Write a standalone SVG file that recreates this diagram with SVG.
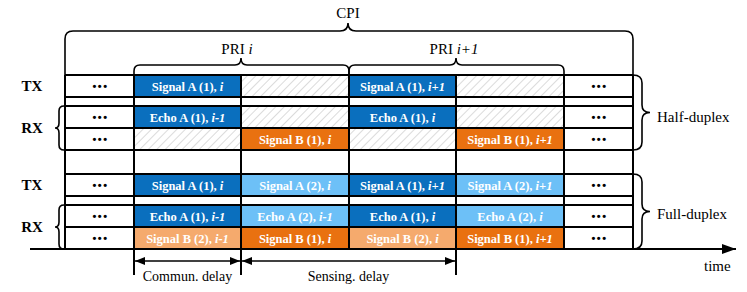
<svg xmlns="http://www.w3.org/2000/svg" width="747" height="292" viewBox="0 0 747 292">
<style>
.ln{stroke:#000;stroke-width:2;fill:none}
.br{stroke:#000;stroke-width:1.6;fill:none}
.cl{font-family:"Liberation Serif","Times New Roman",serif;font-weight:bold;font-size:12.5px;fill:#fff;text-anchor:middle}
.it{font-style:italic}
.lab{font-family:"Liberation Serif","Times New Roman",serif;font-size:15px;fill:#000}
.bl{font-family:"Liberation Serif","Times New Roman",serif;font-size:15px;font-weight:bold;fill:#000;text-anchor:middle}
.dt{font-family:"Liberation Sans",Arial,sans-serif;font-size:11px;font-weight:bold;fill:#000;text-anchor:middle;letter-spacing:1.5px}
.db{fill:#0A6FBE}.lb{fill:#6DC0F7}.or{fill:#E97110}.lo{fill:#F5AA6D}.ht{fill:url(#hatch)}
</style>
<defs>
<pattern id="hatch" patternUnits="userSpaceOnUse" width="6" height="6" patternTransform="rotate(45)">
<rect width="6" height="6" fill="#fff"/>
<line x1="0" y1="0" x2="0" y2="6" stroke="#c4c4c4" stroke-width="1.2"/>
</pattern>
<marker id="ah" viewBox="0 0 10 8" refX="10" refY="4" markerWidth="10" markerHeight="8" markerUnits="userSpaceOnUse" orient="auto-start-reverse">
<path d="M0,0 L10,4 L0,8 Z" fill="#000"/>
</marker>
<marker id="ta" viewBox="0 0 14 10" refX="14" refY="5" markerWidth="14" markerHeight="10" markerUnits="userSpaceOnUse" orient="auto">
<path d="M0,0 L14,5 L0,10 Z" fill="#000"/>
</marker>
</defs>

<g id="cells-half">
<rect class="db" x="134" y="75" width="107" height="22"/>
<rect class="ht" x="241" y="75" width="108" height="22"/>
<rect class="db" x="349" y="75" width="107" height="22"/>
<rect class="ht" x="456" y="75" width="108" height="22"/>
<rect class="db" x="134" y="106" width="107" height="22"/>
<rect class="ht" x="241" y="106" width="108" height="22"/>
<rect class="db" x="349" y="106" width="107" height="22"/>
<rect class="ht" x="456" y="106" width="108" height="22"/>
<rect class="ht" x="134" y="128" width="107" height="22"/>
<rect class="or" x="241" y="128" width="108" height="22"/>
<rect class="ht" x="349" y="128" width="107" height="22"/>
<rect class="or" x="456" y="128" width="108" height="22"/>
</g>
<g id="cells-full">
<rect class="db" x="134" y="174" width="107" height="22"/>
<rect class="lb" x="241" y="174" width="108" height="22"/>
<rect class="db" x="349" y="174" width="107" height="22"/>
<rect class="lb" x="456" y="174" width="108" height="22"/>
<rect class="db" x="134" y="205" width="107" height="22"/>
<rect class="lb" x="241" y="205" width="108" height="22"/>
<rect class="db" x="349" y="205" width="107" height="22"/>
<rect class="lb" x="456" y="205" width="108" height="22"/>
<rect class="lo" x="134" y="227" width="107" height="22"/>
<rect class="or" x="241" y="227" width="108" height="22"/>
<rect class="lo" x="349" y="227" width="107" height="22"/>
<rect class="or" x="456" y="227" width="108" height="22"/>
</g>

<g id="grid">
<path class="ln" d="M65,75H633M65,97H633M65,106H633M65,128H633M65,150H633M65,174H633M65,196H633M65,205H633M65,227H633"/>
<path class="ln" d="M65,75V249M134,75V275M241,75V275M349,75V249M456,75V275M564,75V249M633,75V249"/>
</g>

<g id="cell-text">
<text class="cl" x="187.5" y="90.5">Signal A (1), <tspan class="it">i</tspan></text>
<text class="cl" x="402.5" y="90.5">Signal A (1), <tspan class="it">i+1</tspan></text>
<text class="cl" x="187.5" y="121.5">Echo A (1), <tspan class="it">i-1</tspan></text>
<text class="cl" x="402.5" y="121.5">Echo A (1), <tspan class="it">i</tspan></text>
<text class="cl" x="295" y="143.5">Signal B (1), <tspan class="it">i</tspan></text>
<text class="cl" x="510" y="143.5">Signal B (1), <tspan class="it">i+1</tspan></text>
<text class="cl" x="187.5" y="189.5">Signal A (1), <tspan class="it">i</tspan></text>
<text class="cl" x="295" y="189.5">Signal A (2), <tspan class="it">i</tspan></text>
<text class="cl" x="402.5" y="189.5">Signal A (1), <tspan class="it">i+1</tspan></text>
<text class="cl" x="510" y="189.5">Signal A (2), <tspan class="it">i+1</tspan></text>
<text class="cl" x="187.5" y="220.5">Echo A (1), <tspan class="it">i-1</tspan></text>
<text class="cl" x="295" y="220.5">Echo A (2), <tspan class="it">i-1</tspan></text>
<text class="cl" x="402.5" y="220.5">Echo A (1), <tspan class="it">i</tspan></text>
<text class="cl" x="510" y="220.5">Echo A (2), <tspan class="it">i</tspan></text>
<text class="cl" x="187.5" y="242.5">Signal B (2), <tspan class="it">i-1</tspan></text>
<text class="cl" x="295" y="242.5">Signal B (1), <tspan class="it">i</tspan></text>
<text class="cl" x="402.5" y="242.5">Signal B (2), <tspan class="it">i</tspan></text>
<text class="cl" x="510" y="242.5">Signal B (1), <tspan class="it">i+1</tspan></text>
</g>

<g id="dots">
<text class="dt" x="100.5" y="90">•••</text>
<text class="dt" x="100.5" y="121">•••</text>
<text class="dt" x="100.5" y="143">•••</text>
<text class="dt" x="100.5" y="189">•••</text>
<text class="dt" x="100.5" y="220">•••</text>
<text class="dt" x="100.5" y="242">•••</text>
<text class="dt" x="599.5" y="90">•••</text>
<text class="dt" x="599.5" y="121">•••</text>
<text class="dt" x="599.5" y="143">•••</text>
<text class="dt" x="599.5" y="189">•••</text>
<text class="dt" x="599.5" y="220">•••</text>
<text class="dt" x="599.5" y="242">•••</text>
</g>

<g id="row-labels">
<text class="bl" x="32" y="91">TX</text>
<text class="bl" x="32" y="133">RX</text>
<text class="bl" x="32" y="190">TX</text>
<text class="bl" x="32" y="232">RX</text>
</g>

<g id="braces">
<path class="br" d="M65,75V39Q65,31 73,31H340Q348,31 348,23Q348,31 356,31H625Q633,31 633,39V75"/>
<path class="br" d="M134,75V71Q134,65 140,65H235Q241,65 241,58Q241,65 247,65H343Q349,65 349,71V75"/>
<path class="br" d="M349,75V71Q349,65 355,65H450Q456,65 456,58Q456,65 462,65H558Q564,65 564,71V75"/>
<path class="br" d="M64,106Q59,106 59,111V123Q59,128 55,128Q59,128 59,133V145Q59,150 64,150"/>
<path class="br" d="M64,205Q59,205 59,210V222Q59,227 55,227Q59,227 59,232V244Q59,249 64,249"/>
<path class="br" d="M633,75Q642,75 642,83V105Q642,112.5 650,112.5Q642,112.5 642,120V142Q642,150 633,150"/>
<path class="br" d="M633,174Q642,174 642,182V204Q642,211.5 650,211.5Q642,211.5 642,219V241Q642,249 633,249"/>
</g>

<g id="connectors">
<line class="ln" x1="30" y1="249" x2="736" y2="249" marker-end="url(#ta)"/>
<line x1="135" y1="261" x2="240" y2="261" stroke="#000" stroke-width="1.6" marker-start="url(#ah)" marker-end="url(#ah)"/>
<line x1="242" y1="261" x2="455" y2="261" stroke="#000" stroke-width="1.6" marker-start="url(#ah)" marker-end="url(#ah)"/>
</g>

<g id="labels">
<text class="lab" x="348" y="18" text-anchor="middle">CPI</text>
<text class="lab" x="237" y="54" text-anchor="middle">PRI <tspan class="it">i</tspan></text>
<text class="lab" x="454" y="54" text-anchor="middle">PRI <tspan class="it">i+1</tspan></text>
<text class="lab" x="657" y="122">Half-duplex</text>
<text class="lab" x="657" y="219">Full-duplex</text>
<text class="lab" x="704" y="271">time</text>
<text class="lab" x="187.5" y="281" text-anchor="middle" style="font-size:14px">Commun. delay</text>
<text class="lab" x="348.5" y="281" text-anchor="middle" style="font-size:14px">Sensing. delay</text>
</g>
</svg>
